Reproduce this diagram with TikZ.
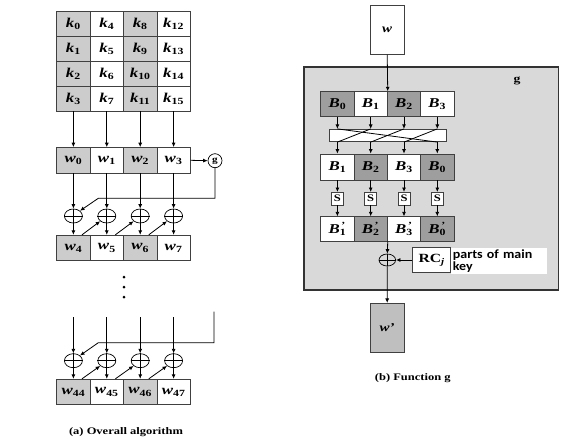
\documentclass[tikz,border=0pt]{standalone}
\usepackage{fontspec}
\setmainfont{Liberation Serif}[FakeStretch=1.25]
\newfontfamily\notefont{Carlito}[FakeStretch=1.12]
\usetikzlibrary{arrows.meta,calc,shapes.geometric}

\newcommand{\klbl}[2]{\textbf{\textit{#1}\textsubscript{#2}}}
\newcommand{\plbl}[2]{\textbf{\textit{#1}\rlap{\textsuperscript{\,'}}\textsubscript{#2}}}

\tikzset{
    cell/.style={draw=black!75, line width=0.8pt, minimum width=33.4pt, minimum height=25.5pt,
        inner sep=0pt, font=\fontsize{13.5}{14}\selectfont},
    tallbox/.style={draw=black!75, line width=0.8pt, minimum width=34.3pt, minimum height=49.3pt,
        inner sep=0pt, font=\fontsize{12}{12}\selectfont},
    xor/.style={draw, ellipse, line width=0.7pt, minimum width=18pt, minimum height=14pt, inner sep=0pt},
    wire/.style={line width=0.8pt},
    arr/.style={wire, -{Latex[length=4.5pt,width=4pt]}},
    caption/.style={font=\bfseries\fontsize{10}{12}\selectfont},
}

\begin{document}
\begin{tikzpicture}[x=1pt,y=-1pt]
    \useasboundingbox[fill=white] (0,0) rectangle (582,445);

    % key matrix
    \foreach \c in {0,...,3} {
        \ifodd\c \def\cf{white}\else \def\cf{black!20}\fi
        \foreach \r in {0,...,3} {
            \pgfmathtruncatemacro{\k}{4*\c+\r}
            \node[cell, minimum height=25pt, fill=\cf] (k\k) at ({73.4+33.4*\c},{23.5+25*\r}) {\klbl{k}{\k}};
        }
    }

    % word rows
    \foreach \c in {0,...,3} {
        \ifodd\c \def\cf{white}\else \def\cf{black!20}\fi
        \pgfmathtruncatemacro{\n}{4+\c}
        \pgfmathtruncatemacro{\m}{44+\c}
        \node[cell, fill=\cf] (w\c) at ({73.4+33.4*\c},160.3) {\klbl{w}{\c}};
        \node[cell, fill=\cf] (w\n) at ({73.4+33.4*\c},248) {\klbl{w}{\n}};
        \node[cell, fill=\cf] (w\m) at ({73.4+33.4*\c},392) {\klbl{w}{\m}};
        \node[xor] (xa\c) at ({73.4+33.4*\c},216) {};
        \node[xor] (xb\c) at ({73.4+33.4*\c},360.7) {};
        \draw[wire] (xa\c.west) -- (xa\c.east) (xa\c.north) -- (xa\c.south);
        \draw[wire] (xb\c.west) -- (xb\c.east) (xb\c.north) -- (xb\c.south);
        \coordinate (t\c) at ({73.4+33.4*\c},317);
    }

    % vertical connectors
    \foreach \c in {0,...,3} {
        \pgfmathtruncatemacro{\k}{4*\c+3}
        \pgfmathtruncatemacro{\n}{4+\c}
        \pgfmathtruncatemacro{\m}{44+\c}
        \draw[arr] (k\k.south) -- (w\c.north);
        \draw[arr] (w\c.south) -- (xa\c.north);
        \draw[arr] (xa\c.south) -- (w\n.north);
        \draw[arr] (t\c) -- (xb\c.north);
        \draw[arr] (xb\c.south) -- (w\m.north);
    }

    % diagonal feeds
    \foreach \c in {1,2,3} {
        \pgfmathtruncatemacro{\n}{3+\c}
        \pgfmathtruncatemacro{\m}{43+\c}
        \draw[arr] ($(w\n.north)!.5!(w\n.north east)$) -- (xa\c.south west);
        \draw[arr] ($(w\m.north)!.5!(w\m.north east)$) -- (xb\c.south west);
    }

    % g feedback
    \node[draw, circle, line width=0.7pt, minimum size=14pt, inner sep=0pt,
        font=\bfseries\fontsize{9}{9}\selectfont] (g) at (215,160.7) {g};
    \draw[arr] (w3.east) -- (g.west);
    \coordinate (gbend) at (98.3,198.3);
    \draw[arr] (g.south) |- (gbend) -- (xa0.north east);
    \coordinate (gin) at (214,311.7);
    \coordinate (gbend2) at (98.3,342.7);
    \draw[arr] (gin) |- (gbend2) -- (xb0.north east);

    % dots
    \foreach \y in {277,287,297}
        \fill (124,\y) circle[radius=1.5];

    \node[caption] (capa) at (126,432) {(a) Overall algorithm};

    % function g
    \node[tallbox, fill=white] (w) at (387.2,29.7) {\textbf{\textit{w}}};
    \node[draw=black!80, line width=1.6pt, fill=black!15, minimum width=254.3pt,
        minimum height=223.3pt, inner sep=0pt] (gbox) at (431.2,178.4) {};
    \node[font=\bfseries\fontsize{11}{12}\selectfont] (glbl) at (517,81) {g};

    \foreach [count=\i from 0] \a/\b/\d in {0/1/1, 1/2/2, 2/3/3, 3/0/0} {
        \ifodd\i \def\cf{white}\def\cg{black!38}\else \def\cf{black!38}\def\cg{white}\fi
        \node[cell, minimum width=33.3pt, minimum height=25pt, fill=\cf] (ba\i) at ({337.4+33.3*\i},104.2) {\klbl{B}{\a}};
        \node[cell, minimum width=33.3pt, minimum height=26pt, fill=\cg] (bb\i) at ({337.4+33.3*\i},167) {\klbl{B}{\b}};
        \node[draw=black!75, line width=0.8pt, fill=white, minimum width=12pt, minimum height=12.6pt,
            inner sep=0pt, font=\bfseries\fontsize{10}{10}\selectfont] (s\i) at ({337.4+33.3*\i},198.7) {S};
        \node[cell, minimum width=33.3pt, minimum height=24.3pt, fill=\cg] (bc\i) at ({337.4+33.3*\i},228.9) {\plbl{B}{\d}};
    }

    % rotation
    \node[draw=black!75, line width=0.8pt, fill=white, minimum width=116.7pt, minimum height=12.4pt,
        inner sep=0pt] (perm) at (387.65,135.5) {};
    \draw[wire] (ba0.south |- perm.north) -- (bb3.north |- perm.south);
    \foreach \i in {1,2,3} {
        \pgfmathtruncatemacro{\p}{\i-1}
        \draw[wire] (ba\i.south |- perm.north) -- (bb\p.north |- perm.south);
    }
    \foreach \i in {0,...,3} {
        \draw[arr] (ba\i.south) -- (ba\i.south |- perm.north);
        \draw[arr] (bb\i.north |- perm.south) -- (bb\i.north);
        \draw[arr] (bb\i.south) -- (s\i.north);
        \draw[arr] (s\i.south) -- (bc\i.north);
    }
    \draw[arr] (w.south) -- (ba1.north east);

    % round constant
    \node[xor, minimum width=16.6pt, minimum height=12pt] (xr) at (387.3,260) {};
    \draw[wire] (xr.west) -- (xr.east) (xr.north) -- (xr.south);
    \node[draw=black!75, line width=0.8pt, fill=white, minimum width=38pt, minimum height=24.6pt,
        inner sep=0pt, font=\fontsize{12.5}{13}\selectfont] (rc) at (431.7,260) {\textbf{RC\textsubscript{\textit{j}}}};
    \node[fill=white, anchor=west, text width=92pt, inner xsep=2pt, inner ysep=2pt, align=left,
        font=\notefont\bfseries\fontsize{12.5}{12}\selectfont] (note) at (450.7,261) {parts of main\\key};
    \node[tallbox, fill=black!25] (wp) at (387.2,328) {\textbf{\textit{w'}}};
    \draw[arr] (bc1.south east) -- (xr.north);
    \draw[arr] (rc.west) -- (xr.east);
    \draw[arr] (xr.south) -- (wp.north);

    \node[caption] (capb) at (412.8,377.7) {(b) Function g};
\end{tikzpicture}
\end{document}
